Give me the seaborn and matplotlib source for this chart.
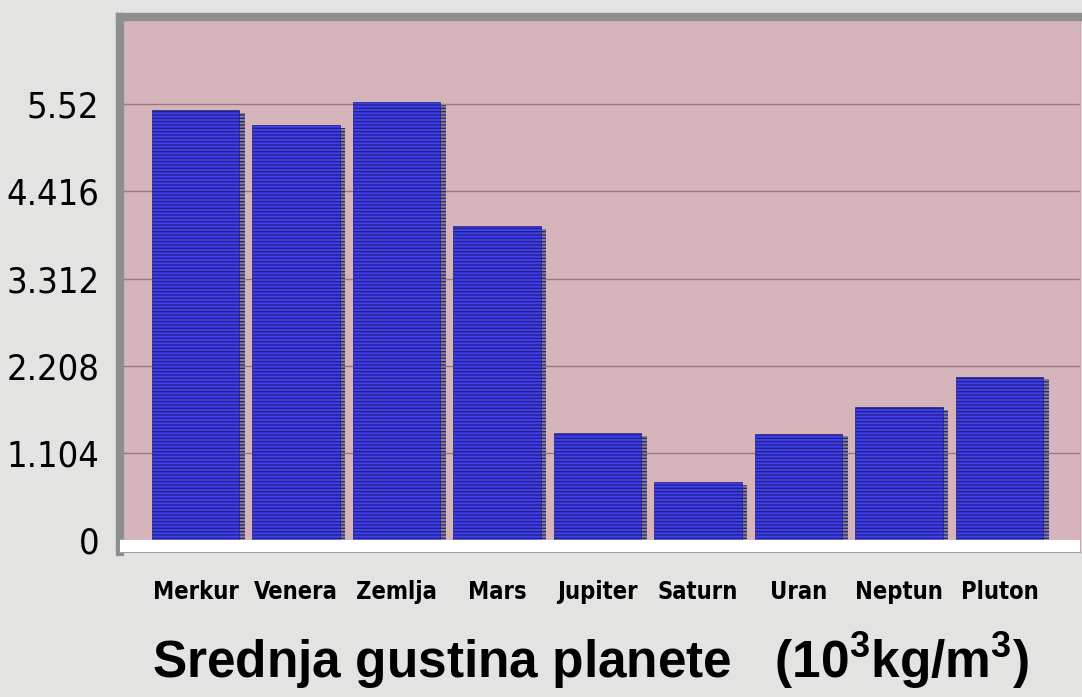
import matplotlib
matplotlib.use("Agg")
import matplotlib.pyplot as plt
import matplotlib.patheffects as pe
import seaborn as sns
import pandas as pd

# data
planets = ["Merkur", "Venera", "Zemlja", "Mars", "Jupiter", "Saturn", "Uran", "Neptun", "Pluton"]
density = [5.45, 5.26, 5.55, 3.98, 1.36, 0.74, 1.35, 1.69, 2.07]
yticks = [0, 1.104, 2.208, 3.312, 4.416, 5.52]
ytick_labels = ["0", "1.104", "2.208", "3.312", "4.416", "5.52"]

df = pd.DataFrame({"planet": planets, "density": density})

plt.rcParams["hatch.linewidth"] = 0.9
plt.rcParams["mathtext.fontset"] = "custom"
plt.rcParams["mathtext.rm"] = "Liberation Sans:bold"
plt.rcParams["mathtext.it"] = "Liberation Sans:bold"
plt.rcParams["mathtext.bf"] = "Liberation Sans:bold"

fig = plt.figure(figsize=(10.82, 6.97), dpi=100, facecolor="#e3e3e1")
ax = fig.add_axes([0.111, 0.208, 0.887, 0.767])
ax.set_facecolor("#d5b5bb")

sns.barplot(data=df, x="planet", y="density", ax=ax, width=0.87,
            color="#3e3ef2", saturation=1, edgecolor="#22227a",
            hatch="-----", linewidth=0.5, zorder=3)

# grey shadow on the right side of every bar
for bar in ax.patches:
    bar.set_path_effects([pe.SimplePatchShadow(offset=(4, -2), shadow_rgbFace="#7e7a86", alpha=0.9),
                          pe.Normal()])

ax.set_ylim(-0.15, 6.62)
ax.set_xlim(-0.75, 8.8)
ax.axhspan(-0.15, 0, color="white", zorder=4)

ax.set_yticks(yticks)
ax.set_yticklabels(ytick_labels, family="DejaVu Sans", stretch="condensed", fontsize=26)
ax.set_xticks(range(len(planets)))
ax.set_xticklabels(planets, family="DejaVu Sans", stretch="condensed", fontsize=17, fontweight="bold")
ax.tick_params(axis="both", length=0)
ax.tick_params(axis="y", pad=15)
ax.tick_params(axis="x", pad=20)
ax.set_xlabel("")
ax.set_ylabel("")

ax.grid(axis="y", color="#9a7880", linewidth=1.0, zorder=1)
ax.grid(axis="x", visible=False)
ax.set_axisbelow(True)

for side in ["left", "top"]:
    ax.spines[side].set_color("#8e8e8e")
    ax.spines[side].set_linewidth(6)
ax.spines["right"].set_color("#c8aab0")
ax.spines["right"].set_linewidth(1)
ax.spines["bottom"].set_color("#a0a0a0")
ax.spines["bottom"].set_linewidth(1.5)

fig.text(0.546, 0.052, r"Srednja gustina planete   (10$^3$kg/m$^3$)",
         ha="center", va="center", fontsize=37, family="Liberation Sans",
         fontweight="bold")

fig.savefig("out.png", dpi=100, facecolor=fig.get_facecolor())
